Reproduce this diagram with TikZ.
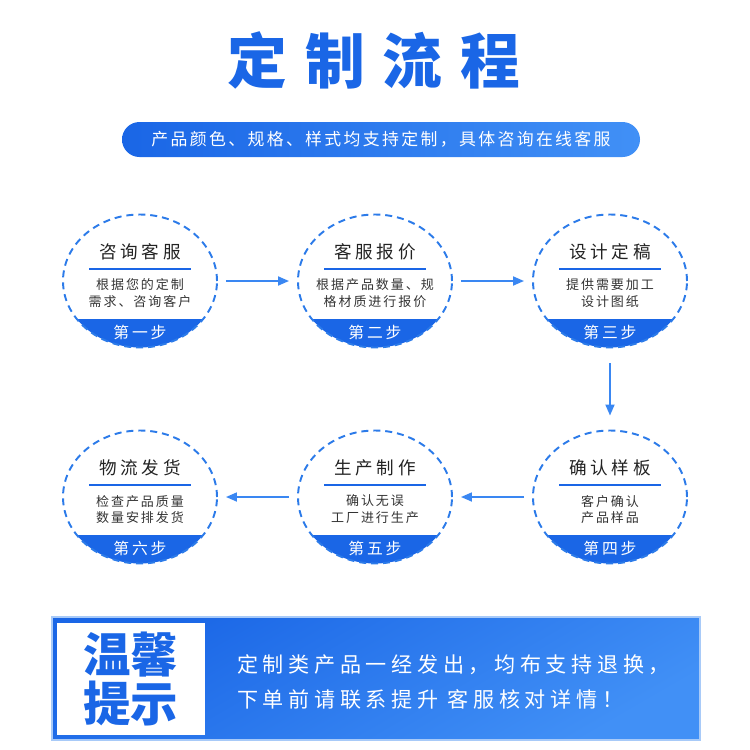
\documentclass[tikz,border=0pt]{standalone}
\usepackage{fontspec}
\setmainfont{Noto Sans CJK SC}
\usetikzlibrary{shapes.geometric,arrows.meta}

\definecolor{dzblue}{HTML}{1A66E6}
\definecolor{dzsky}{HTML}{4190F6}
\definecolor{dzdash}{HTML}{2C7BE9}
\definecolor{dzarrow}{HTML}{3A87F2}
\definecolor{dzink}{HTML}{222222}
\definecolor{dzbody}{HTML}{333333}
\definecolor{dzedge}{HTML}{A8CAF8}

\begin{document}
\begin{tikzpicture}[
  dztitle/.style={font=\fontsize{34}{40}\selectfont\bfseries\addfontfeature{LetterSpace=30}, text=dzblue},
  tagline/.style={rounded corners=0.35cm, left color=dzblue, right color=dzsky, text=white, minimum width=10.36cm, minimum height=0.70cm, font=\fontsize{9.6}{11}\selectfont\addfontfeature{LetterSpace=14}},
  stepring/.style={ellipse, draw=dzdash, line width=1.1pt, dash pattern=on 4pt off 2.8pt, minimum width=3.08cm, minimum height=2.66cm, inner sep=0pt,
    path picture={\fill[dzblue] (path picture bounding box.south west) rectangle ([yshift=0.58cm]path picture bounding box.south east);}},
  stephead/.style={font=\fontsize{10}{12}\selectfont\addfontfeature{LetterSpace=22}, text=dzink},
  steprule/.style={draw=dzblue, line width=1.1pt},
  stepbody/.style={font=\fontsize{7.4}{9.6}\selectfont\addfontfeature{LetterSpace=15}, text=dzbody, align=center},
  steplabel/.style={font=\fontsize{9}{11}\selectfont\addfontfeature{LetterSpace=18}, text=white},
  flow/.style={draw=dzarrow, line width=1pt, -{Triangle[length=2.2mm,width=1.8mm]}, shorten <=0.16cm, shorten >=0.16cm},
  tipband/.style={draw=dzedge, line width=0.6pt, top color=dzblue, bottom color=dzsky, shading angle=30, minimum width=12.96cm, minimum height=2.46cm},
  tipkey/.style={fill=white, minimum width=2.96cm, minimum height=2.24cm, align=center, text=dzblue, font=\fontsize{27}{28.4}\selectfont\bfseries},
  tiptext/.style={anchor=west, align=left, text=white, font=\fontsize{12}{20.4}\selectfont\addfontfeature{LetterSpace=22}},
]
  \useasboundingbox (0,0) rectangle (15,-15);

  % title and banner
  \node[dztitle] (heading) at (7.48,-1.20) {定制流程};
  \node[tagline] (slogan) at (7.62,-2.79) {产品颜色、规格、样式均支持定制，具体咨询在线客服};

  % step rings
  \node[stepring] (zixun)   at (2.80,-5.62) {};
  \node[stepring] (baojia)  at (7.50,-5.62) {};
  \node[stepring] (sheji)   at (12.20,-5.62) {};
  \node[stepring] (yangban) at (12.20,-9.94) {};
  \node[stepring] (zhizuo)  at (7.50,-9.94) {};
  \node[stepring] (fahuo)   at (2.80,-9.94) {};

  % first row texts
  \node[stephead] (zixun-h) at (2.80,-5.04) {咨询客服};
  \draw[steprule] (1.78,-5.38) -- (3.82,-5.38);
  \node[stepbody] (zixun-b) at (2.80,-5.87) {根据您的定制\\需求、咨询客户};
  \node[steplabel] (zixun-s) at (2.80,-6.64) {第一步};

  \node[stephead] (baojia-h) at (7.50,-5.04) {客服报价};
  \draw[steprule] (6.48,-5.38) -- (8.52,-5.38);
  \node[stepbody] (baojia-b) at (7.50,-5.87) {根据产品数量、规\\格材质进行报价};
  \node[steplabel] (baojia-s) at (7.50,-6.64) {第二步};

  \node[stephead] (sheji-h) at (12.20,-5.04) {设计定稿};
  \draw[steprule] (11.18,-5.38) -- (13.22,-5.38);
  \node[stepbody] (sheji-b) at (12.20,-5.87) {提供需要加工\\设计图纸};
  \node[steplabel] (sheji-s) at (12.20,-6.64) {第三步};

  % second row texts
  \node[stephead] (yangban-h) at (12.20,-9.36) {确认样板};
  \draw[steprule] (11.18,-9.70) -- (13.22,-9.70);
  \node[stepbody] (yangban-b) at (12.20,-10.19) {客户确认\\产品样品};
  \node[steplabel] (yangban-s) at (12.20,-10.96) {第四步};

  \node[stephead] (zhizuo-h) at (7.50,-9.36) {生产制作};
  \draw[steprule] (6.48,-9.70) -- (8.52,-9.70);
  \node[stepbody] (zhizuo-b) at (7.50,-10.19) {确认无误\\工厂进行生产};
  \node[steplabel] (zhizuo-s) at (7.50,-10.96) {第五步};

  \node[stephead] (fahuo-h) at (2.80,-9.36) {物流发货};
  \draw[steprule] (1.78,-9.70) -- (3.82,-9.70);
  \node[stepbody] (fahuo-b) at (2.80,-10.19) {检查产品质量\\数量安排发货};
  \node[steplabel] (fahuo-s) at (2.80,-10.96) {第六步};

  % arrows
  \draw[flow] (zixun) -- (baojia);
  \draw[flow] (baojia) -- (sheji);
  \draw[flow, shorten <=0.30cm, shorten >=0.28cm] (sheji) -- (yangban);
  \draw[flow] (yangban) -- (zhizuo);
  \draw[flow] (zhizuo) -- (fahuo);

  % reminder band
  \node[tipband] (tipbox) at (7.52,-13.57) {};
  \node[tipkey] (tiptitle) at (2.62,-13.58) {温馨\\提示};
  \node[tiptext] (tipnote) at (4.62,-13.64) {定制类产品一经发出，均布支持退换，\\下单前请联系提升 客服核对详情！};
\end{tikzpicture}
\end{document}
